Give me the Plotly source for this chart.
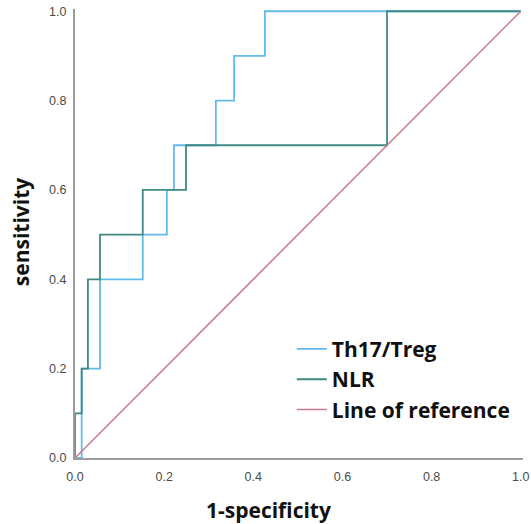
import plotly.graph_objects as go

# ROC points (1-specificity, sensitivity), drawn as steps
th17_fpr = [0.0, 0.015, 0.056, 0.152, 0.206, 0.222, 0.316, 0.357, 0.426, 1.0]
th17_tpr = [0.0, 0.2, 0.4, 0.5, 0.6, 0.7, 0.8, 0.9, 1.0, 1.0]

nlr_fpr = [0.0, 0.0, 0.015, 0.029, 0.056, 0.152, 0.249, 0.70, 1.0]
nlr_tpr = [0.0, 0.1, 0.2, 0.4, 0.5, 0.6, 0.7, 1.0, 1.0]

ref_x = [0.0, 1.0]
ref_y = [0.0, 1.0]

tick_vals = [0.0, 0.2, 0.4, 0.6, 0.8, 1.0]
tick_text = ["0.0", "0.2", "0.4", "0.6", "0.8", "1.0"]

names = ["Th17/Treg", "NLR", "Line of reference"]
colors = ["#62bbe8", "#3f8a84", "#c77a8c"]

fig = go.Figure()
fig.add_trace(go.Scatter(x=th17_fpr, y=th17_tpr, mode="lines", line_shape="hv",
                         name=names[0], line=dict(color=colors[0], width=1.8)))
fig.add_trace(go.Scatter(x=nlr_fpr, y=nlr_tpr, mode="lines", line_shape="hv",
                         name=names[1], line=dict(color=colors[1], width=1.8)))
fig.add_trace(go.Scatter(x=ref_x, y=ref_y, mode="lines",
                         name=names[2], line=dict(color=colors[2], width=1.5)))

axis_common = dict(
    range=[0, 1.005], tickvals=tick_vals, ticktext=tick_text,
    showgrid=False, zeroline=False, showline=True, automargin=False,
    linecolor="#9c9c9c", linewidth=2,
    ticks="", tickfont=dict(family="Liberation Sans, Arial", size=12.5, color="#4a4a4a"),
)

fig.update_layout(
    width=531, height=524,
    margin=dict(l=75, r=8, t=9, b=66),
    paper_bgcolor="white", plot_bgcolor="white",
    xaxis=dict(**axis_common, ticklabelstandoff=6),
    yaxis=dict(**axis_common, ticklabelstandoff=4),
    showlegend=True,
    legend=dict(x=0.484, y=0.2877, xanchor="left", yanchor="top",
                bgcolor="rgba(0,0,0,0)", borderwidth=0,
                font=dict(family="Open Sans", size=21, color="#111111", weight="bold"),
                itemwidth=30, tracegroupgap=0),
    annotations=[
        dict(text="<b>1-specificity</b>", xref="paper", yref="paper",
             x=0.431, y=-0.1158, xanchor="center", yanchor="middle",
             showarrow=False, font=dict(family="Open Sans", size=21, color="#111111")),
        dict(text="<b>sensitivity</b>", xref="paper", yref="paper",
             x=-0.1205, y=0.503, xanchor="center", yanchor="middle",
             textangle=-90, showarrow=False,
             font=dict(family="Open Sans", size=21, color="#111111")),
    ],
)

fig.write_html("out.html", config={"displayModeBar": False},
               post_script="document.body.style.margin='0';")
